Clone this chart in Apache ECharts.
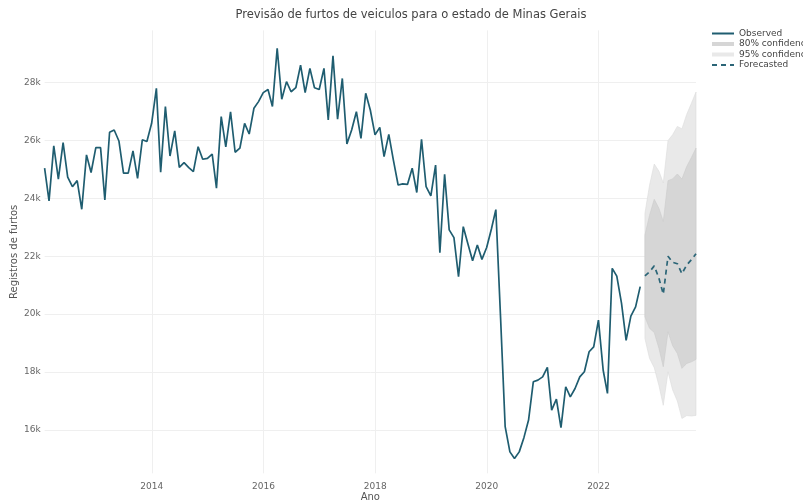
<!DOCTYPE html>
<html>
<head>
<meta charset="utf-8">
<script src="https://cdn.jsdelivr.net/npm/echarts@6/dist/echarts.min.js"></script>
<style>html,body{margin:0;padding:0;background:#fff}#c{width:803px;height:502px}</style>
</head>
<body>
<div id="c"></div>
<script>
// Observed monthly values, Jan 2012 .. Sep 2022
const observed = [
25040,23910,25810,24660,25920,24730,24400,24610,23620,25500,24890,25750,
25750,23940,26280,26360,25980,24870,24870,25640,24690,26020,25960,26590,
27800,24900,27170,25460,26330,25070,25230,25060,24920,25780,25350,25380,
25530,24350,26820,25780,26990,25590,25730,26590,26220,27110,27340,27650,
27760,27170,29180,27420,28030,27680,27820,28600,27650,28490,27820,27760,
28490,26710,28920,26730,28140,25880,26360,26990,26070,27630,27050,26190,
26450,25440,26210,25320,24460,24500,24480,25040,24200,26040,24400,24080,
25150,22120,24830,22910,22640,21290,23020,22410,21840,22390,21890,22300,
22940,23610,19870,16110,15240,15010,15240,15740,16340,17660,17720,17830,
18160,16680,17060,16080,17490,17140,17430,17830,18010,18700,18870,19790,
18060,17260,21580,21310,20370,19090,19930,20250,20950];
// Forecast, Oct 2022 .. Sep 2023
const forecast = [21318,21460,21665,21230,20690,22000,21790,21740,21395,21695,21880,22085];
const lower80 = [19905,19510,19365,18810,18180,19390,18910,18640,18125,18295,18350,18435];
const upper80 = [22731,23410,23965,23650,23200,24610,24670,24840,24665,25095,25410,25735];
const lower95 = [19156,18476,18146,17527,16850,18007,17384,16997,16392,16493,16479,16500];
const upper95 = [23480,24444,25184,24933,24530,25993,26196,26483,26398,26897,27281,27670];
const yTicks = [16000,18000,20000,22000,24000,26000,28000];
const xTickYears = [2014,2016,2018,2020,2022];
const startYear = 2012, startMonth = 0;

function monthEnd(i){ return Date.UTC(startYear, startMonth + i + 1, 0); }
const nObs = observed.length;
const obsData = observed.map((v,i)=>[monthEnd(i), v]);
const fcDates = forecast.map((v,i)=>monthEnd(nObs+i));
const fcData = forecast.map((v,i)=>[fcDates[i], v]);
const xTicks = xTickYears.map(y=>Date.UTC(y,0,1));

function bandRenderer(lower, upper, fill, stroke){
  return function(params, api){
    if (params.dataIndex !== 0) return null;
    const pts = [];
    for (let i = 0; i < fcDates.length; i++) pts.push(api.coord([fcDates[i], upper[i]]));
    for (let i = fcDates.length - 1; i >= 0; i--) pts.push(api.coord([fcDates[i], lower[i]]));
    return {type:'polygon', shape:{points:pts}, style:{fill:fill, stroke:stroke, lineWidth:0.6}, silent:true};
  };
}

const FONT = 'DejaVu Sans';
const lineColor = '#1f5d70';
const c80 = '#d6d6d6', c95 = '#e9e9e9';
const chart = echarts.init(document.getElementById('c'));
chart.setOption({
  animation:false,
  backgroundColor:'#fff',
  textStyle:{fontFamily:FONT},
  title:{
    text:'Previsão de furtos de veiculos para o estado de Minas Gerais',
    left:406, top:4, textAlign:'center',
    textStyle:{fontFamily:FONT,fontSize:11.5,fontWeight:'normal',color:'#444'}
  },
  legend:{
    orient:'vertical', left:706, top:24, itemWidth:22, itemHeight:4, itemGap:1.5,
    textStyle:{fontFamily:FONT,fontSize:9,color:'#444'},
    data:[
      {name:'Observed', itemStyle:{opacity:0}},
      {name:'80% confidence', icon:'rect', itemStyle:{color:c80}},
      {name:'95% confidence', icon:'rect', itemStyle:{color:c95}},
      {name:'Forecasted', itemStyle:{opacity:0}}
    ]
  },
  grid:{left:44.6, right:107, top:30.4, bottom:28.7, containLabel:false, outerBoundsMode:'none'},
  xAxis:{
    type:'value', min:obsData[0][0], max:fcDates[fcDates.length-1],
    name:'Ano', nameLocation:'middle', nameGap:19, nameMoveOverlap:false,
    nameTextStyle:{fontFamily:FONT,fontSize:10,color:'#555'},
    axisLine:{show:false}, axisTick:{show:false, customValues:xTicks},
    axisLabel:{customValues:xTicks, margin:9, fontSize:9, color:'#666', fontFamily:FONT,
      formatter:(v)=>String(new Date(v).getUTCFullYear())},
    splitLine:{show:true, lineStyle:{color:'#efefef', width:1}}
  },
  yAxis:{
    type:'value', min:14500, max:29800,
    name:'Registros de furtos', nameLocation:'middle', nameGap:25, nameRotate:90, nameMoveOverlap:false,
    nameTextStyle:{fontFamily:FONT,fontSize:10,color:'#555'},
    axisLine:{show:false}, axisTick:{show:false, customValues:yTicks},
    axisLabel:{customValues:yTicks, margin:4, fontSize:9, color:'#666', fontFamily:FONT,
      formatter:(v)=>(v/1000)+'k'},
    splitLine:{show:true, lineStyle:{color:'#efefef', width:1}}
  },
  series:[
    {name:'95% confidence', type:'custom', data:fcData, encode:{x:0,y:1},
      renderItem:bandRenderer(lower95, upper95, c95, '#dcdcdc'), itemStyle:{color:c95}, z:1, silent:true},
    {name:'80% confidence', type:'custom', data:fcData, encode:{x:0,y:1},
      renderItem:bandRenderer(lower80, upper80, c80, '#cbcbcb'), itemStyle:{color:c80}, z:2, silent:true},
    {name:'Observed', type:'line', data:obsData, symbol:'none',
      lineStyle:{width:1.7, color:lineColor}, itemStyle:{color:lineColor}, z:5},
    {name:'Forecasted', type:'line', data:fcData, symbol:'none',
      lineStyle:{width:1.7, color:'#2b6577', type:[5,4]}, itemStyle:{color:'#2b6577'}, z:6}
  ]
});
</script>
</body>
</html>
